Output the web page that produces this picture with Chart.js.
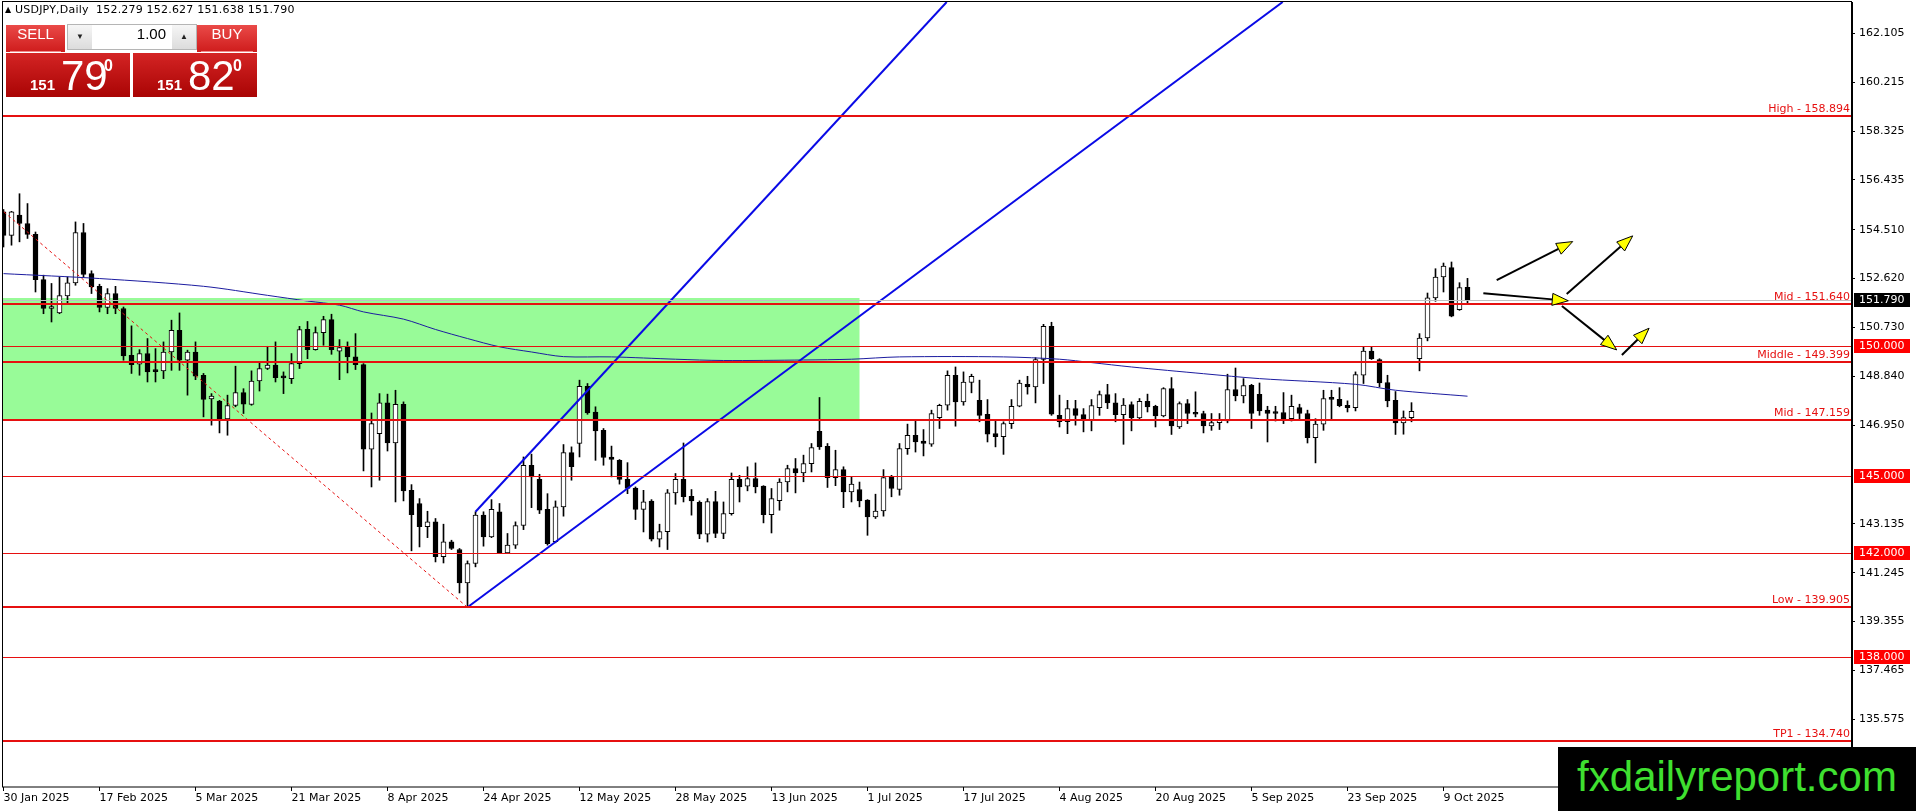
<!DOCTYPE html>
<html>
<head>
<meta charset="utf-8">
<title>USDJPY, Daily</title>
<script src="https://cdn.jsdelivr.net/npm/chart.js@4.4.1/dist/chart.umd.min.js"></script>
<style>
  html, body { margin: 0; padding: 0; background: #fff; overflow: hidden; }
  #wrap { position: relative; width: 1916px; height: 811px; }
  #chart { position: absolute; left: 0; top: 0; }
  .hdr { position: absolute; left: 5px; top: 3px; font: 11px 'DejaVu Sans'; letter-spacing: 0.2px; color: #000; white-space: pre; }
  .hdr .tri { font-size: 8px; position: relative; top: -1px; }
  .lbl { position: absolute; top: 25px; height: 27px; color: #fff; text-align: center; line-height: 27px;
         font: 15px 'Liberation Sans Narrow', 'Liberation Sans'; background: linear-gradient(#ea4a48, #cf1c1c); }
  .lbl:after { content: ''; position: absolute; left: 4px; right: 4px; bottom: 0; height: 1px; background: #f08a8a; }
  .big { position: absolute; top: 53px; height: 44px; width: 124px; color: #fff;
         background: linear-gradient(#d42424, #a90404); font-family: 'Liberation Sans Narrow', 'Liberation Sans'; }
  .big span { position: absolute; }
  .big .s { font: bold 15px 'Liberation Sans'; top: 23px; }
  .big .l { font-size: 42px; top: -1px; }
  .big .p { font: bold 16px 'Liberation Sans'; top: 4px; }
  .spin { position: absolute; left: 67px; top: 24px; width: 130px; height: 26px; border: 1px solid #b5b5b5;
          box-sizing: border-box; background: #fff; }
  .spin .b { position: absolute; top: 0; width: 24px; height: 24px; background: linear-gradient(#f6f6f6, #dcdcdc);
             font-size: 8px; text-align: center; line-height: 24px; color: #222; }
  .spin .v { position: absolute; left: 25px; width: 73px; top: 0; height: 24px; line-height: 24px; text-align: right;
             font: 15px 'Liberation Sans'; color: #000; }
  .wm { position: absolute; left: 1558px; top: 747px; width: 358px; height: 64px; background: #000;
        color: #3fe030; font: 42px 'Liberation Sans Narrow', 'Liberation Sans'; text-align: center; line-height: 60px; }
</style>
</head>
<body>
<div id="wrap">
  <canvas id="chart" width="1916" height="811"></canvas>
  <div class="hdr"><span class="tri">&#9650;</span> USDJPY,Daily  152.279 152.627 151.638 151.790</div>
  <div class="lbl" style="left:6px;width:59px;">SELL</div>
  <div class="spin">
    <div class="b" style="left:0;">&#9660;</div>
    <div class="v">1.00</div>
    <div class="b" style="left:104px;">&#9650;</div>
  </div>
  <div class="lbl" style="left:197px;width:60px;">BUY</div>
  <div class="big" style="left:6px;"><span class="s" style="left:24px;">151</span><span class="l" style="left:55px;">79</span><span class="p" style="left:98px;">0</span></div>
  <div class="big" style="left:133px;"><span class="s" style="left:24px;">151</span><span class="l" style="left:55px;">82</span><span class="p" style="left:100px;">0</span></div>
  <div class="wm">fxdailyreport.com</div>
</div>
<script>
// daily candles, 30 Jan 2025 .. 14 Oct 2025 (bar index = trading day)
const opens = [155.20,154.29,155.07,154.75,154.33,152.58,151.46,151.29,151.95,152.45,
  154.40,152.81,152.32,151.50,152.04,151.46,149.65,149.31,149.72,149.07,
  149.05,149.78,150.62,149.46,149.78,148.88,147.96,147.88,147.19,147.71,
  148.21,147.75,148.66,149.14,149.27,148.80,148.75,149.33,150.66,149.87,
  150.53,151.03,149.81,149.97,149.59,149.29,146.02,146.62,147.81,146.26,
  147.76,144.43,143.92,143.02,143.21,141.86,142.44,142.14,140.85,141.60,
  143.47,142.63,143.60,142.01,142.31,143.07,145.40,144.85,143.69,142.44,
  143.79,145.89,146.24,148.45,147.46,146.75,145.72,145.59,144.85,144.52,
  143.69,144.01,142.54,142.83,144.33,144.85,144.20,143.97,142.73,143.99,
  142.76,143.53,144.85,144.59,144.88,144.59,143.49,144.03,144.75,145.27,
  145.10,145.46,146.71,146.13,144.92,145.23,144.37,144.46,144.05,143.40,
  143.63,144.95,144.46,146.04,146.56,146.33,146.21,147.24,147.72,148.88,
  147.85,148.60,147.91,147.37,146.62,146.50,147.01,147.68,148.53,148.43,
  149.49,150.77,147.33,147.08,147.59,147.36,147.14,147.63,148.13,147.81,
  147.36,147.75,147.23,147.87,147.68,147.31,148.36,146.88,147.78,147.40,
  147.40,146.92,147.05,147.11,148.33,148.08,148.49,148.14,147.53,147.45,
  147.44,147.20,147.63,147.40,146.47,146.99,147.98,147.95,147.72,147.63,
  148.88,149.81,149.49,148.60,147.91,147.04,147.24,149.52,150.32,151.87,
  152.68,153.04,151.42,152.279];
const highs = [155.29,155.22,155.90,155.52,154.42,152.75,152.43,152.68,152.68,154.81,
  154.75,152.92,152.40,152.23,152.32,151.52,150.79,149.87,150.30,149.91,
  150.17,151.01,151.29,149.85,150.17,148.95,148.17,147.91,148.11,149.23,
  148.36,149.05,149.36,150.00,150.17,149.01,149.72,150.77,150.96,150.75,
  151.16,151.24,150.26,150.17,150.49,149.33,147.42,148.17,148.15,148.30,
  147.85,144.65,144.11,143.62,143.34,143.12,142.50,142.18,141.70,143.60,
  143.60,144.07,143.92,142.76,143.21,145.72,145.83,145.05,144.30,144.02,
  146.20,146.11,148.69,148.56,147.66,146.82,146.14,145.62,145.50,144.56,
  144.43,144.07,143.12,144.46,145.08,146.26,144.46,144.02,144.11,144.39,
  143.98,145.10,145.01,145.34,145.49,144.61,144.50,144.88,145.40,145.66,
  145.79,146.24,148.02,146.24,145.98,145.34,144.97,144.75,144.07,144.28,
  145.23,145.01,146.24,146.99,147.14,146.78,147.53,147.76,149.05,149.20,
  149.01,148.92,148.69,147.94,147.14,147.08,147.94,148.69,148.84,149.56,
  150.85,150.93,148.11,147.91,147.91,147.59,147.94,148.27,148.53,148.17,
  147.98,147.85,147.98,148.15,147.72,148.40,148.79,147.85,147.94,148.24,
  147.49,147.40,147.40,148.92,149.16,148.75,148.53,148.58,147.68,147.68,
  148.21,148.11,147.76,147.53,147.20,148.30,148.30,148.40,147.89,149.01,
  149.98,149.98,149.52,148.88,148.25,147.50,147.82,150.49,152.06,153.00,
  153.22,153.26,152.46,152.627];
const lows = [153.84,153.91,154.04,154.17,152.10,151.26,150.94,151.26,151.65,152.36,
  152.68,152.04,151.33,151.26,151.26,149.46,148.95,148.88,148.62,148.62,
  148.75,149.07,149.07,148.11,148.71,147.27,146.95,146.65,146.56,147.66,
  147.40,147.72,148.27,149.10,148.62,148.17,148.56,149.14,149.52,149.85,
  150.04,149.69,148.71,148.97,149.10,145.18,144.56,144.82,145.95,143.98,
  144.02,142.09,142.24,142.60,141.66,141.62,142.14,140.46,139.905,141.47,
  142.27,142.60,141.99,141.99,142.18,142.91,143.76,143.53,142.31,142.40,
  143.43,144.82,145.72,147.37,145.59,145.40,144.95,144.67,144.30,143.30,
  142.82,142.47,142.24,142.14,143.89,143.98,143.47,142.56,142.43,142.60,
  142.56,143.47,143.98,144.41,144.33,143.17,142.78,143.66,144.37,144.33,
  144.76,145.14,146.01,144.54,144.61,143.76,143.98,143.79,142.69,143.34,
  143.43,144.18,144.24,145.82,145.91,145.76,146.13,146.82,147.53,146.91,
  147.72,148.20,147.08,146.30,146.11,145.82,146.82,147.66,148.15,147.81,
  148.56,147.33,146.88,146.62,146.95,146.69,146.73,147.33,147.59,147.08,
  146.21,146.73,147.18,147.46,146.88,147.27,146.59,146.82,147.01,147.27,
  146.65,146.75,146.78,147.04,147.89,147.81,146.82,147.33,146.30,147.11,
  147.01,147.11,147.20,146.26,145.49,146.75,147.20,147.66,147.46,147.50,
  148.56,149.49,148.43,147.66,146.59,146.60,147.08,149.05,150.21,151.74,
  152.10,151.14,151.39,151.638];
const closes = [154.29,155.20,154.75,154.33,152.58,151.46,151.49,151.96,152.45,154.40,
  152.78,152.30,151.50,152.04,151.46,149.63,149.29,149.72,149.01,149.02,
  149.78,150.62,149.46,149.78,148.84,147.95,148.07,147.19,147.71,148.21,
  147.76,148.65,149.14,149.27,148.79,148.78,149.33,150.65,149.87,150.53,
  151.03,149.87,149.95,149.59,149.29,146.02,147.01,147.81,146.26,147.76,
  144.41,143.49,143.02,143.21,141.86,142.44,142.18,140.85,141.60,143.47,
  142.63,143.69,142.01,142.31,143.07,145.40,144.95,143.66,142.37,143.79,
  145.89,145.34,148.45,147.42,146.73,145.70,145.62,144.85,144.50,143.69,
  143.98,142.54,142.83,144.33,144.85,144.18,144.02,142.73,143.99,142.76,
  143.53,144.85,144.56,144.88,144.56,143.49,144.11,144.75,145.27,145.10,
  145.46,146.08,146.11,144.92,145.23,144.37,144.67,144.02,143.40,143.63,
  144.92,144.50,146.04,146.56,146.30,146.24,147.40,147.72,148.88,147.85,
  148.62,148.84,147.33,146.60,146.50,147.01,147.68,148.58,148.43,149.49,
  150.77,147.37,147.08,147.59,147.33,147.14,147.71,148.13,147.81,147.36,
  147.73,147.23,147.87,147.66,147.31,148.36,146.92,147.78,147.40,147.37,
  146.92,147.05,147.14,148.33,148.08,148.48,147.40,147.50,147.40,147.40,
  147.20,147.68,147.40,146.47,146.99,147.98,147.95,147.70,147.63,148.91,
  149.81,149.52,148.58,147.89,147.04,147.24,147.48,150.32,151.87,152.68,
  153.10,151.16,152.27,151.790];

// time axis: a date label every 12 bars
const xTickBars = [0,12,24,36,48,60,72,84,96,108,120,132,144,156,168,180];
const xTickLabels = ['30 Jan 2025','17 Feb 2025','5 Mar 2025','21 Mar 2025','8 Apr 2025','24 Apr 2025',
  '12 May 2025','28 May 2025','13 Jun 2025','1 Jul 2025','17 Jul 2025','4 Aug 2025',
  '20 Aug 2025','5 Sep 2025','23 Sep 2025','9 Oct 2025'];
const yTickValues = [162.105,160.215,158.325,156.435,154.510,152.620,150.730,148.840,146.950,
  143.135,141.245,139.355,137.465,135.575];

// horizontal levels
const levelValues = [158.894, 151.640, 149.399, 147.159, 139.905, 134.740];
const levelNames = ['High - 158.894','Mid - 151.640','Middle - 149.399','Mid - 147.159','Low - 139.905','TP1 - 134.740'];
const roundValues = [150.000, 145.000, 142.000, 138.000];
const lastPrice = 151.790;

// moving average, read at sample bars
const maBars = [0,12,25,33,38,42,45,50,54,58,62,66,70,76,84,90,100,106,112,125,132,136,141,150,157,169,174,183];
const maValues = [152.81,152.62,152.32,151.97,151.75,151.59,151.33,151.05,150.65,150.30,149.98,149.78,149.60,
  149.59,149.50,149.45,149.47,149.50,149.59,149.59,149.50,149.37,149.20,148.94,148.75,148.53,148.30,148.07];

// trend lines (bar, price)
const channelBars1 = [59, 117.9];
const channelPrices1 = [143.60, 163.315];
const channelBars2 = [58, 159.9];
const channelPrices2 = [139.905, 163.315];
const fallBars = [0.04, 58];
const fallPrices = [155.20, 139.905];

// green zone
const zoneBars = [-1, 107.06];
const zonePrices = [147.159, 151.86];

// arrows (from bar/price -> to bar/price)
const arrowFromBar = [186.65, 195.4, 184.98, 194.8, 202.3];
const arrowFromPrice = [152.56, 152.02, 152.05, 151.56, 149.66];
const arrowToBar = [196.15, 203.65, 195.6, 201.65, 205.7];
const arrowToPrice = [154.05, 154.27, 151.76, 149.86, 150.70];

const RED = '#e61010';
const bars = opens.map((o, i) => i);

const datasets = [
  { type: 'bar', label: 'wick', data: bars.map(i => ({x: i, y: [lows[i], highs[i]]})),
    backgroundColor: '#000', barThickness: 1, grouped: false, order: 10, minBarLength: 1 },
  { type: 'bar', label: 'body', data: bars.map(i => ({x: i, y: [Math.min(opens[i], closes[i]), Math.max(opens[i], closes[i])]})),
    backgroundColor: bars.map(i => closes[i] >= opens[i] ? '#fff' : '#000'),
    borderColor: '#000', borderWidth: 1, borderSkipped: false, barThickness: 5, grouped: false, order: 9, minBarLength: 2 },
  { type: 'line', data: maBars.map((b, k) => ({x: b, y: maValues[k]})), borderColor: '#1c1ca0', borderWidth: 1,
    pointRadius: 0, tension: 0.3, order: 3, clip: 0 },
  { type: 'line', data: fallBars.map((b, k) => ({x: b, y: fallPrices[k]})), borderColor: RED, borderWidth: 1,
    borderDash: [3, 3], pointRadius: 0, order: 3, clip: 0 },
  { type: 'line', data: channelBars1.map((b, k) => ({x: b, y: channelPrices1[k]})), borderColor: '#0a0ae6', borderWidth: 2,
    pointRadius: 0, order: 2, clip: 0 },
  { type: 'line', data: channelBars2.map((b, k) => ({x: b, y: channelPrices2[k]})), borderColor: '#0a0ae6', borderWidth: 2,
    pointRadius: 0, order: 2, clip: 0 }
];

// horizontal levels are snapped to whole pixels so the thin ones stay crisp
function drawLevel(ctx, area, py, width, color) {
  ctx.fillStyle = color;
  const top = Math.round(py) - (width > 1 ? 1 : 0);
  ctx.fillRect(area.left, top, area.right - area.left, width);
}

const decor = {
  id: 'decor',
  beforeDraw(chart) {
    const c = chart.ctx;
    c.save();
    c.fillStyle = '#fff';
    c.fillRect(0, 0, chart.width, chart.height);
    c.restore();
  },
  beforeDatasetsDraw(chart) {
    const {ctx, chartArea, scales: {x, y}} = chart;
    ctx.save();
    ctx.beginPath();
    ctx.rect(chartArea.left, chartArea.top, chartArea.right - chartArea.left, chartArea.bottom - chartArea.top);
    ctx.clip();
    const x0 = x.getPixelForValue(zoneBars[0]), x1 = x.getPixelForValue(zoneBars[1]);
    const y0 = y.getPixelForValue(zonePrices[1]), y1 = y.getPixelForValue(zonePrices[0]);
    ctx.fillStyle = '#98fb98';
    ctx.fillRect(x0, Math.round(y0), Math.round(x1 - x0), Math.round(y1) - Math.round(y0));
    ctx.restore();
  },
  afterDatasetsDraw(chart) {
    const {ctx, chartArea, scales: {x, y}} = chart;
    ctx.save();
    drawLevel(ctx, chartArea, y.getPixelForValue(lastPrice), 1, '#c0c0c0');
    roundValues.forEach(v => drawLevel(ctx, chartArea, y.getPixelForValue(v), 1, RED));
    levelValues.forEach(v => drawLevel(ctx, chartArea, y.getPixelForValue(v), 2, RED));
    // level captions
    ctx.font = '11px "DejaVu Sans"';
    ctx.fillStyle = RED;
    ctx.textAlign = 'right';
    ctx.textBaseline = 'alphabetic';
    levelValues.forEach((v, k) => {
      ctx.fillText(levelNames[k], chartArea.right - 2, Math.round(y.getPixelForValue(v)) - 4);
    });
    // arrows
    arrowFromBar.forEach((b, k) => {
      const ax = x.getPixelForValue(b), ay = y.getPixelForValue(arrowFromPrice[k]);
      const bx = x.getPixelForValue(arrowToBar[k]), by = y.getPixelForValue(arrowToPrice[k]);
      const ang = Math.atan2(by - ay, bx - ax);
      const len = 16, half = 6;
      const hx = bx - len * Math.cos(ang), hy = by - len * Math.sin(ang);
      ctx.strokeStyle = '#000';
      ctx.lineWidth = 2;
      ctx.beginPath();
      ctx.moveTo(ax, ay);
      ctx.lineTo(hx, hy);
      ctx.stroke();
      ctx.beginPath();
      ctx.moveTo(bx, by);
      ctx.lineTo(hx + half * Math.sin(ang), hy - half * Math.cos(ang));
      ctx.lineTo(hx - half * Math.sin(ang), hy + half * Math.cos(ang));
      ctx.closePath();
      ctx.fillStyle = '#ffff00';
      ctx.fill();
      ctx.lineWidth = 1;
      ctx.stroke();
    });
    // frame
    ctx.strokeStyle = '#000';
    ctx.lineWidth = 1;
    ctx.strokeRect(chartArea.left + 0.5, chartArea.top - 0.5, chartArea.right - chartArea.left - 1, chartArea.bottom - chartArea.top + 0.5);
    ctx.restore();
  },
  afterDraw(chart) {
    const {ctx, chartArea, scales: {y}} = chart;
    ctx.save();
    ctx.font = '11px "DejaVu Sans"';
    ctx.textAlign = 'left';
    ctx.textBaseline = 'middle';
    const box = (v, bg) => {
      const py = Math.round(y.getPixelForValue(v));
      ctx.fillStyle = bg;
      ctx.fillRect(chartArea.right + 2, py - 7, 56, 14);
      ctx.fillStyle = '#fff';
      ctx.fillText(v.toFixed(3), chartArea.right + 7, py + 0.5);
    };
    roundValues.forEach(v => box(v, '#ff0000'));
    box(lastPrice, '#000');
    ctx.restore();
  }
};

Chart.defaults.font.family = 'DejaVu Sans';
Chart.defaults.font.size = 11;
Chart.defaults.color = '#000';

new Chart(document.getElementById('chart'), {
  type: 'line',
  data: { datasets: datasets },
  options: {
    responsive: false,
    animation: false,
    devicePixelRatio: 1,
    events: [],
    layout: { padding: { left: 2, top: 2, right: 0, bottom: 0 } },
    plugins: { legend: { display: false }, tooltip: { enabled: false } },
    scales: {
      x: {
        type: 'linear',
        offset: false,
        min: -0.1875,
        max: 231.0625,
        grid: { display: true, drawOnChartArea: false, drawTicks: true, tickLength: 4, color: '#000', offset: false },
        border: { display: false },
        afterBuildTicks: (scale) => { scale.ticks = xTickBars.map(v => ({value: v})); },
        afterFit: (scale) => {
          scale.height = 24;
          scale.paddingLeft = 0; scale.paddingRight = 0; scale.paddingTop = 0; scale.paddingBottom = 0;
        },
        ticks: {
          align: 'start', maxRotation: 0, autoSkip: false, padding: 1, color: '#000',
          callback: (v) => xTickLabels[xTickBars.indexOf(v)]
        }
      },
      y: {
        type: 'linear',
        position: 'right',
        min: 132.956,
        max: 163.315,
        grid: { display: true, drawOnChartArea: false, drawTicks: true, tickLength: 3, color: '#000' },
        border: { display: true, color: '#000' },
        afterBuildTicks: (scale) => { scale.ticks = yTickValues.map(v => ({value: v})); },
        afterFit: (scale) => {
          scale.width = 64;
          scale.paddingLeft = 0; scale.paddingRight = 0; scale.paddingTop = 0; scale.paddingBottom = 0;
        },
        ticks: { padding: 4, color: '#000', autoSkip: false, callback: (v) => v.toFixed(3) }
      }
    }
  },
  plugins: [decor]
});
</script>
</body>
</html>
